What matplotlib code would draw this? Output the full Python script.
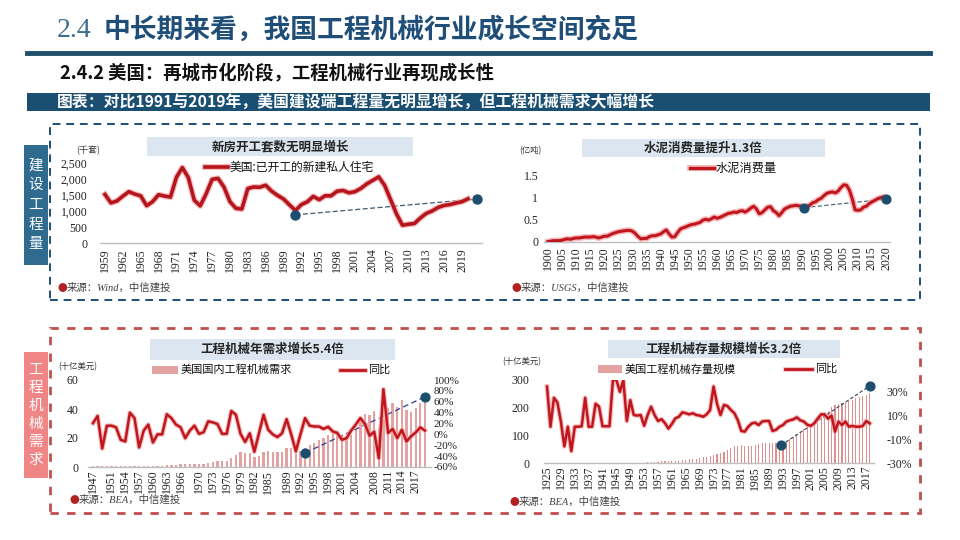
import matplotlib
matplotlib.use('Agg')
import matplotlib.pyplot as plt
import matplotlib.patheffects as pe
from matplotlib.patches import Rectangle
from matplotlib.lines import Line2D

plt.rcParams['font.family'] = ['Noto Sans CJK SC', 'DejaVu Sans']
SERIF = ['Liberation Serif', 'DejaVu Serif']
CJK = ['Noto Sans CJK SC', 'DejaVu Sans']

# ---------------- data ----------------
housing_start_year = 1959
housing_starts = [1517, 1252, 1313, 1463, 1603, 1529, 1473, 1165, 1292, 1508, 1467, 1434,
                  2052, 2357, 2045, 1338, 1160, 1538, 1987, 2020, 1745, 1292, 1084, 1062,
                  1703, 1750, 1742, 1805, 1621, 1488, 1376, 1193, 1014, 1200, 1288, 1457,
                  1354, 1477, 1474, 1617, 1641, 1569, 1603, 1705, 1848, 1956, 2068, 1801,
                  1355, 906, 554, 587, 609, 781, 925, 1003, 1112, 1174, 1203, 1250, 1290, 1380]
housing_ticks = list(range(1959, 2020, 3))
housing_dots_x = [1991, 2021.5]
housing_dots_y = [880, 1375]

cement_start_year = 1900
cement = [0.01, 0.02, 0.03, 0.03, 0.03, 0.04, 0.06, 0.07, 0.06, 0.08,
          0.09, 0.09, 0.10, 0.11, 0.11, 0.11, 0.12, 0.11, 0.09, 0.11,
          0.13, 0.13, 0.16, 0.19, 0.21, 0.23, 0.24, 0.25, 0.26, 0.26,
          0.24, 0.19, 0.12, 0.07, 0.08, 0.08, 0.12, 0.14, 0.14, 0.16,
          0.18, 0.23, 0.27, 0.18, 0.11, 0.12, 0.21, 0.29, 0.32, 0.34,
          0.37, 0.39, 0.40, 0.42, 0.44, 0.49, 0.51, 0.49, 0.52, 0.56,
          0.53, 0.55, 0.58, 0.61, 0.64, 0.65, 0.67, 0.66, 0.69, 0.70,
          0.67, 0.71, 0.76, 0.80, 0.74, 0.63, 0.66, 0.72, 0.78, 0.79,
          0.70, 0.66, 0.59, 0.66, 0.74, 0.77, 0.80, 0.81, 0.82, 0.81,
          0.80, 0.75, 0.79, 0.83, 0.88, 0.90, 0.95, 0.98, 1.04, 1.09,
          1.11, 1.12, 1.10, 1.14, 1.22, 1.28, 1.27, 1.16, 0.97, 0.72,
          0.71, 0.72, 0.78, 0.80, 0.86, 0.90, 0.93, 0.97, 0.99, 1.01, 0.99]
cement_ticks = list(range(1900, 2021, 5))
cement_dots_x = [1991, 2020]
cement_dots_y = [0.77, 0.96]

demand_start_year = 1947
demand = [0.6, 0.7, 0.6, 0.7, 0.8, 0.8, 0.8, 0.7, 0.9, 1.0,
          0.9, 0.9, 1.0, 0.9, 0.9, 1.0, 1.3, 1.5, 1.7, 1.9,
          1.8, 1.9, 2.2, 2.2, 2.3, 2.8, 3.4, 4.0, 4.0, 4.2,
          6.0, 8.2, 10.3, 9.8, 10.0, 6.8, 7.8, 10.3, 10.8, 10.5,
          10.3, 10.6, 13.0, 13.2, 9.9, 11.0, 13.0, 15.0, 16.8, 18.4,
          20.0, 21.8, 24.0, 24.6, 21.8, 20.0, 21.8, 26.4, 31.5, 36.8,
          35.6, 38.4, 26.0, 33.0, 40.7, 44.3, 41.4, 46.0, 39.0, 38.0,
          40.7, 44.0, 47.6]
demand_yoy = [20.6, 34, -26, 16, 16, 13, -10, -13, 40, 30,
              -24, 7, 18, -15, 0, 0, 37, 30, 18, 13,
              -7, 7, 16, 1, 4, 24, 22, 19, 1, 1,
              43, 36, 1, -14, 2, -32, 2, 36, 8.5, 0,
              -5, 2, 28, 0, -31, 0, 30, 16, 14.5, 14.5,
              10, 14, 5.5, 2.5, -10, -7, 7, 18, 30, 19,
              -2.5, 5, -44, 83, 2.5, 10, -7, 8.5, -13, -3.5,
              3.5, 13, 7]
demand_ticks = [1947, 1951, 1954, 1957, 1960, 1963, 1966, 1970, 1973, 1976, 1979, 1982,
                1985, 1989, 1992, 1995, 1998, 2001, 2004, 2008, 2011, 2014, 2017]
demand_dots_x = [1993, 2019]
demand_dots_y = [-34, 69]

stock_start_year = 1954
stock = [3, 4, 5, 5, 6, 6, 7, 7, 8, 9, 10, 11, 13, 14, 16, 18, 20, 22, 25, 30,
         33, 36, 39, 47, 53, 60, 63, 65, 63, 60, 63, 65, 69, 72, 72, 74, 74, 71, 69, 72,
         81, 87, 95, 105, 113, 123, 135, 141, 147, 153, 165, 177, 189, 201, 209, 213, 217,
         219, 225, 229, 234, 237, 241, 246, 253]
stock_yoy_start_year = 1925
stock_yoy = [34.5, 0.6, 25, 21, 5, -16, 0.6, -20, 0.6, 0.6,
             1, 25, 0.6, 0.6, 20, 17.5, 1, 1, 1, 40,
             40, 30, 40, 5.4, 23, 10.5, 10, 10.5, 1.4, 10.5,
             17.5, 10.5, 5.4, 7, 3.6, -1, 3, 7.7, 9, 12.7,
             12, 11, 12, 10.5, 10, 9, 11, 14.7, 34.5, 20,
             10.5, 19, 18, 14.7, 12, 6, -3, -3.5, 0.6, 3.4,
             4, 2, 5, 5.4, 5.4, -3, -2, 0.6, 2, 5,
             6, 6.8, 8.5, 6, 5, 2.3, 1.3, 3.4, 7.4, 11,
             11, 7.4, 10, -3.6, 5, 2, 5, 0.6, 1.3, 0.6,
             0.6, 1.3, 5.4, 3.4]
stock_ticks = list(range(1925, 2018, 4))
stock_dots_x = [1992.5, 2018]
stock_dots_y = [-15, 35]

# ---------------- figure ----------------
W, H = 960, 540
fig = plt.figure(figsize=(9.6, 5.4), dpi=100)
fig.patch.set_facecolor('white')

def fx(x):
    return x / W

def fy(y):
    return 1 - y / H

def rect(x0, y0, x1, y1, **kw):
    r = Rectangle((fx(x0), fy(y1)), (x1 - x0) / W, (y1 - y0) / H,
                  transform=fig.transFigure, **kw)
    fig.add_artist(r)
    return r

def txt(x, y, s, **kw):
    return fig.text(fx(x), fy(y), s, **kw)

def axes_px(l, t, r, b):
    return fig.add_axes([fx(l), fy(b), (r - l) / W, (b - t) / H])

RED = '#C0161E'
GLOW = [pe.Stroke(linewidth=3.4, foreground='#F4A6A6', alpha=0.75), pe.Normal()]
GLOW_T = [pe.Stroke(linewidth=4.4, foreground='#F4A6A6', alpha=0.75), pe.Normal()]
DOT = '#1D4E6E'
BAR = '#E3A3A3'

# ---------------- header ----------------
txt(57, 31, '2.4', fontsize=20, family=SERIF, color='#3E6F8F', va='center', ha='left')
txt(104, 30, '中长期来看，我国工程机械行业成长空间充足', fontsize=19.3, fontweight='bold',
    color='#1F4E79', va='center', ha='left')
fig.add_artist(Line2D([fx(27), fx(930)], [fy(53), fy(53)], lw=3.5, color='#1F4E6B',
                      transform=fig.transFigure))
txt(60, 73, '2.4.2 美国：再城市化阶段，工程机械行业再现成长性', fontsize=13.2,
    fontweight='bold', color='#111111', va='center', ha='left')
rect(27, 93, 930, 111, facecolor='#1B4F72', edgecolor='none')
txt(57, 102, '图表：对比1991与2019年，美国建设端工程量无明显增长，但工程机械需求大幅增长',
    fontsize=11.4, fontweight='bold', color='white', va='center', ha='left')

# frames
rect(50, 124, 920, 300, fill=False, edgecolor='#1F4E79', lw=1.4, linestyle=(0, (4, 3)))
rect(50, 328, 920, 513, fill=False, edgecolor='#C0504D', lw=2.0, linestyle=(0, (3, 3)))
rect(24, 145, 48, 265, facecolor='#2F6A8F', edgecolor='none')
txt(36, 205, '建\n设\n工\n程\n量', fontsize=10.5, color='white', ha='center', va='center',
    linespacing=1.5)
rect(24, 352, 48, 478, facecolor='#F08585', edgecolor='none')
txt(36, 415, '工\n程\n机\n械\n需\n求', fontsize=10.5, color='white', ha='center', va='center',
    linespacing=1.35)


def style_axes(ax, ylabelpad, xlabelpad):
    for s in ['top', 'right', 'left']:
        ax.spines[s].set_visible(False)
    ax.spines['bottom'].set_color('#BFBFBF')
    ax.spines['bottom'].set_linewidth(1.0)
    ax.tick_params(axis='both', length=0, labelsize=8.5, colors='#222222')
    ax.tick_params(axis='y', pad=ylabelpad)
    ax.tick_params(axis='x', pad=xlabelpad)
    for lab in ax.get_xticklabels() + ax.get_yticklabels():
        lab.set_family(SERIF)
    ax.set_facecolor('none')


def chart_title(x0, y0, x1, y1, s):
    rect(x0, y0, x1, y1, facecolor='#DCE6F0', edgecolor='none')
    txt((x0 + x1) / 2, (y0 + y1) / 2, s, fontsize=9, fontweight='bold', color='#262626',
        ha='center', va='center')


def source(x, y, s):
    txt(x, y, '●', fontsize=7, color='#B22222', ha='left', va='center')
    txt(x + 9, y, s, fontsize=7.5, color='#404040', ha='left', va='center', style='italic',
        family=['Liberation Serif', 'Noto Sans CJK SC'])

# ---------------- chart 1: housing starts ----------------
px1, x01 = 5.95, 105
ax1 = axes_px(x01 - 0.8 * px1, 163, x01 + (2022.3 - 1959) * px1, 243)
hy = list(range(housing_start_year, housing_start_year + len(housing_starts)))
ax1.plot(hy, housing_starts, color='#B5161E', lw=2.6, path_effects=GLOW_T, zorder=3)
ax1.plot(housing_dots_x, housing_dots_y, color='#3C5A73', lw=0.9, ls=(0, (4, 2)), zorder=2)
ax1.scatter(housing_dots_x, housing_dots_y, s=42, color=DOT, zorder=4, clip_on=False)
ax1.set_xlim(1958.2, 2022.3)
ax1.set_ylim(0, 2500)
ax1.set_yticks([0, 500, 1000, 1500, 2000, 2500])
ax1.set_yticklabels(['0', '500', '1,000', '1,500', '2,000', '2,500'])
ax1.set_xticks(housing_ticks)
ax1.set_xticklabels([str(t) for t in housing_ticks], rotation=90)
style_axes(ax1, 9, 4)
chart_title(147, 137, 413, 156, '新房开工套数无明显增长')
txt(88, 151, '(千套)', fontsize=6.5, color='#333333', ha='center', va='center')
fig.add_artist(Line2D([fx(205), fx(228)], [fy(167), fy(167)], lw=2.6, color='#B5161E',
                      path_effects=GLOW_T, transform=fig.transFigure))
txt(230, 167, '美国:已开工的新建私人住宅', fontsize=8.5, color='#111111', ha='left', va='center')
source(58, 288, '来源：Wind，中信建投')

# ---------------- chart 2: cement ----------------
px2, x02 = 2.817, 548
ax2 = axes_px(x02 - 1.5 * px2, 175, x02 + 121.5 * px2, 242)
cy = list(range(cement_start_year, cement_start_year + len(cement)))
ax2.plot(cy, cement, color=RED, lw=2.2, path_effects=GLOW_T, zorder=3)
ax2.plot(cement_dots_x, cement_dots_y, color='#3C5A73', lw=0.8, ls=(0, (4, 2)), zorder=2)
ax2.scatter(cement_dots_x, cement_dots_y, s=40, color=DOT, zorder=4, clip_on=False)
ax2.set_xlim(1898.5, 2021.5)
ax2.set_ylim(0, 1.5)
ax2.set_yticks([0, 0.5, 1, 1.5])
ax2.set_yticklabels(['0', '0.5', '1', '1.5'])
ax2.set_xticks(cement_ticks)
ax2.set_xticklabels([str(t) for t in cement_ticks], rotation=90)
style_axes(ax2, 4, 3)
chart_title(582, 139, 825, 157, '水泥消费量提升1.3倍')
txt(530, 151, '(亿吨)', fontsize=6, color='#333333', ha='center', va='center')
fig.add_artist(Line2D([fx(690), fx(714)], [fy(168), fy(168)], lw=2.4, color=RED,
                      path_effects=GLOW_T, transform=fig.transFigure))
txt(716, 168, '水泥消费量', fontsize=8.8, color='#111111', ha='left', va='center')
source(512, 288, '来源：USGS，中信建投')

# ---------------- chart 3: demand ----------------
px3, x03 = 4.61, 93
ax3 = axes_px(x03 - 1.0 * px3, 380, x03 + 73.3 * px3, 467)
dy = list(range(demand_start_year, demand_start_year + len(demand)))
ax3.bar(dy, demand, width=0.5, color=BAR, zorder=1)
ax3.set_xlim(1946, 2020.3)
ax3.set_ylim(0, 60)
ax3.set_yticks([0, 20, 40, 60])
ax3.set_xticks(demand_ticks)
ax3.set_xticklabels([str(t) for t in demand_ticks], rotation=90)
style_axes(ax3, 7, 2)
ax3r = ax3.twinx()
dyy = list(range(demand_start_year, demand_start_year + len(demand_yoy)))
ax3r.plot(dyy, demand_yoy, color=RED, lw=1.8, path_effects=GLOW, zorder=3)
ax3r.plot(demand_dots_x, demand_dots_y, color='#3B4A9A', lw=1.0, ls=(0, (4, 2.5)), zorder=2)
ax3r.scatter(demand_dots_x, demand_dots_y, s=40, color=DOT, zorder=4, clip_on=False)
ax3r.set_ylim(-60, 100)
ax3r.set_yticks(list(range(-60, 101, 20)))
ax3r.set_yticklabels([f'{v}%' for v in range(-60, 101, 20)])
for s in ['top', 'right', 'left', 'bottom']:
    ax3r.spines[s].set_visible(False)
ax3r.tick_params(axis='y', length=0, labelsize=8, pad=2, colors='#222222')
for lab in ax3r.get_yticklabels():
    lab.set_family(SERIF)
chart_title(150, 339, 395, 360, '工程机械年需求增长5.4倍')
txt(78, 367, '(十亿美元)', fontsize=6, color='#333333', ha='center', va='center')
rect(152, 366, 178, 374, facecolor=BAR, edgecolor='none')
txt(181, 370, '美国国内工程机械需求', fontsize=8, color='#111111', ha='left', va='center')
fig.add_artist(Line2D([fx(340), fx(365)], [fy(370), fy(370)], lw=2.0, color=RED,
                      path_effects=GLOW, transform=fig.transFigure))
txt(368, 370, '同比', fontsize=8, color='#111111', ha='left', va='center')
source(70, 500, '来源：BEA，中信建投')

# ---------------- chart 4: stock ----------------
px4, x04 = 3.47, 547
ax4 = axes_px(x04 - 1.0 * px4, 380, x04 + 94.3 * px4, 463)
sy = list(range(stock_start_year, stock_start_year + len(stock)))
ax4.bar(sy, stock, width=0.32, color='#E08E8E', zorder=1)
ax4.set_xlim(1924, 2019.3)
ax4.set_ylim(0, 300)
ax4.set_yticks([0, 100, 200, 300])
ax4.set_xticks(stock_ticks)
ax4.set_xticklabels([str(t) for t in stock_ticks], rotation=90)
style_axes(ax4, 10, 2)
ax4r = ax4.twinx()
syy = list(range(stock_yoy_start_year, stock_yoy_start_year + len(stock_yoy)))
ax4r.plot(syy, stock_yoy, color=RED, lw=1.8, path_effects=GLOW, zorder=3)
ax4r.plot(stock_dots_x, stock_dots_y, color='#2F3F55', lw=0.8, ls=(0, (3, 2)), zorder=2)
ax4r.scatter(stock_dots_x, stock_dots_y, s=40, color=DOT, zorder=4, clip_on=False)
ax4r.set_ylim(-30, 40)
ax4r.set_yticks([-30, -10, 10, 30])
ax4r.set_yticklabels(['-30%', '-10%', '10%', '30%'])
for s in ['top', 'right', 'left', 'bottom']:
    ax4r.spines[s].set_visible(False)
ax4r.tick_params(axis='y', length=0, labelsize=8.5, pad=9, colors='#222222')
for lab in ax4r.get_yticklabels():
    lab.set_family(SERIF)
chart_title(608, 340, 840, 358, '工程机械存量规模增长3.2倍')
txt(522, 362, '(十亿美元)', fontsize=6, color='#333333', ha='center', va='center')
rect(598, 365, 622, 373, facecolor=BAR, edgecolor='none')
txt(625, 369, '美国工程机械存量规模', fontsize=8, color='#111111', ha='left', va='center')
fig.add_artist(Line2D([fx(785), fx(812)], [fy(369), fy(369)], lw=2.0, color=RED,
                      path_effects=GLOW, transform=fig.transFigure))
txt(815, 369, '同比', fontsize=8, color='#111111', ha='left', va='center')
source(510, 502, '来源：BEA，中信建投')

fig.savefig('out.png', dpi=100, facecolor='white')
